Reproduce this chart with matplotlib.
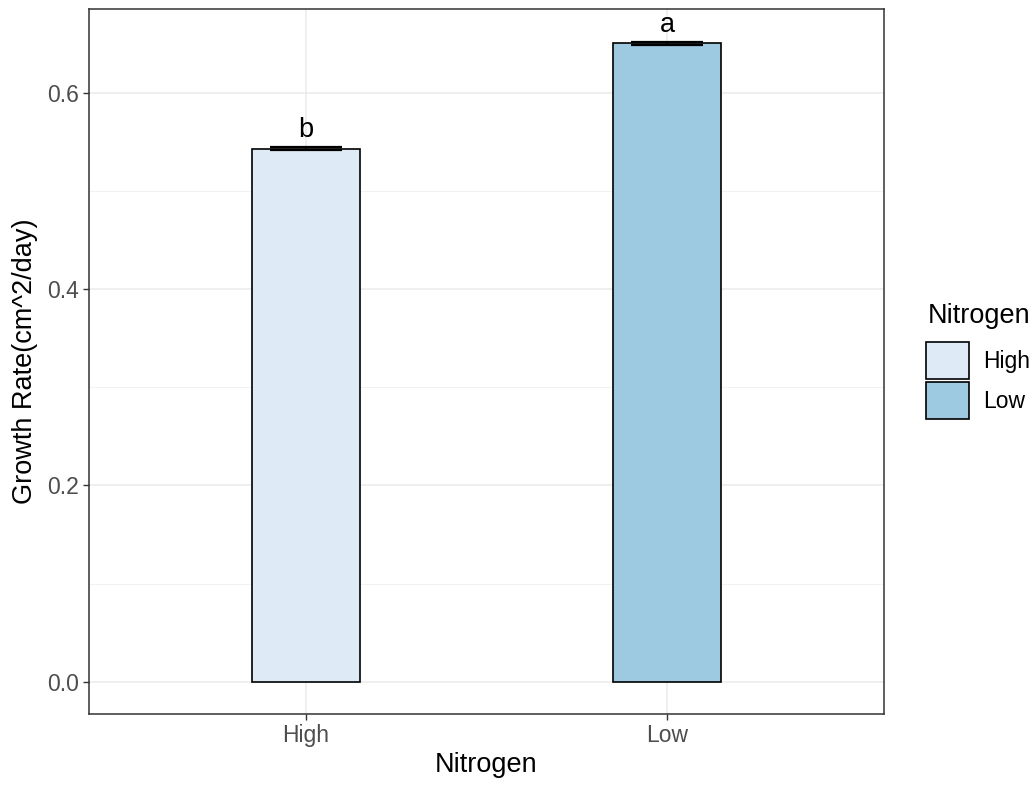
import numpy as np
import matplotlib.pyplot as plt
from matplotlib.patches import Patch

plt.rcParams['font.family'] = ['Liberation Sans', 'DejaVu Sans']

# growth rate per nitrogen treatment (mean and standard error)
nitrogen = ['High', 'Low']
growth_mean = [0.543, 0.650]
growth_se = [0.0012, 0.0012]
letters = ['b', 'a']
fill_colors = ['#DEEBF7', '#9ECAE1']

W, H = 1036, 786
fig = plt.figure(figsize=(W / 100, H / 100), dpi=100)
ax = fig.add_axes([89 / W, 1 - 714 / H, (884 - 89) / W, (714 - 9) / H])

x = np.arange(1, len(nitrogen) + 1)
ax.bar(x, growth_mean, width=0.3, color=fill_colors, edgecolor='black',
       linewidth=1.2, zorder=3)
ax.errorbar(x, growth_mean, yerr=growth_se, fmt='none', ecolor='black',
            elinewidth=1.2, capsize=26, capthick=1.6, zorder=4)
for xi, m, s, lab in zip(x, growth_mean, growth_se, letters):
    ax.text(xi, m + s + 0.004, lab, ha='center', va='bottom', fontsize=19.5,
            color='black', zorder=5)

# theme_bw look: grey grid with minor lines, dark panel border
ax.set_xlim(0.4, 2.6)
ax.set_ylim(-0.0326, 0.685)
ax.set_xticks(x)
ax.set_xticklabels(nitrogen)
ax.set_yticks([0.0, 0.2, 0.4, 0.6])
ax.set_yticklabels(['0.0', '0.2', '0.4', '0.6'])
ax.set_yticks([0.1, 0.3, 0.5], minor=True)
ax.grid(True, which='major', color='#EBEBEB', linewidth=1.1, zorder=0)
ax.grid(True, which='minor', axis='y', color='#F2F2F2', linewidth=0.7, zorder=0)
ax.tick_params(which='major', length=4, width=1, color='#333333',
               labelcolor='#4D4D4D', labelsize=16.5, pad=3)
ax.tick_params(which='minor', length=0)
for sp in ax.spines.values():
    sp.set_color('#333333')
    sp.set_linewidth(1.1)

ax.set_xlabel('Nitrogen', fontsize=19.5, labelpad=4)
ax.set_ylabel('Growth Rate(cm^2/day)', fontsize=19.5, labelpad=7)

# legend: title drawn separately, keys stacked below it
fig.text(928 / W, 1 - 323 / H, 'Nitrogen', fontsize=19.5, ha='left',
         va='baseline')
handles = [Patch(facecolor=c, edgecolor='black', linewidth=1.2) for c in fill_colors]
leg = fig.legend(handles, nitrogen, loc='upper left',
                 bbox_to_anchor=(926 / W, 1 - 342 / H), frameon=False,
                 fontsize=16.5, handlelength=1.88, handleheight=2.1,
                 handletextpad=0.6, labelspacing=0.13, borderpad=0.0,
                 borderaxespad=0.0)

fig.savefig('out.png', dpi=100)
